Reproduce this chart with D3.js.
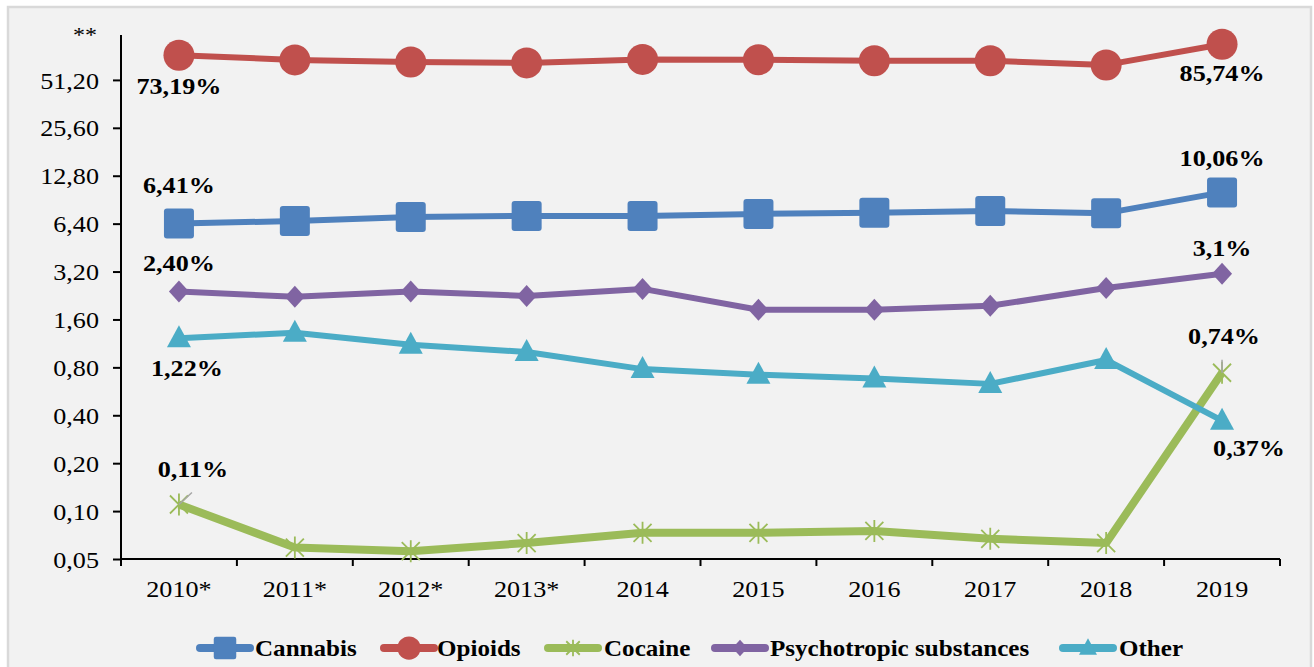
<!DOCTYPE html>
<html>
<head>
<meta charset="utf-8">
<script src="https://cdn.jsdelivr.net/npm/d3@7"></script>
<style>
  html, body { margin: 0; padding: 0; background: #ffffff; }
  svg text { font-family: "Liberation Serif", "Times New Roman", serif; fill: #000; }
</style>
</head>
<body>
<svg id="chart" width="1314" height="667"></svg>
<script>
// ---- data ----
const years = ["2010*", "2011*", "2012*", "2013*", "2014", "2015", "2016", "2017", "2018", "2019"];
const cannabis     = [6.41, 6.65, 7.05, 7.16, 7.16, 7.37, 7.50, 7.69, 7.45, 10.06];
const opioids      = [73.19, 68.4, 66.4, 65.5, 68.9, 68.6, 67.6, 67.6, 63.6, 85.74];
const cocaine      = [0.11, 0.059, 0.056, 0.063, 0.073, 0.073, 0.075, 0.067, 0.063, 0.74];
const psychotropic = [2.40, 2.22, 2.40, 2.25, 2.49, 1.84, 1.84, 1.95, 2.52, 3.1];
const other        = [1.22, 1.32, 1.11, 1.00, 0.78, 0.72, 0.68, 0.63, 0.89, 0.37];
const yTicks       = [0.05, 0.10, 0.20, 0.40, 0.80, 1.60, 3.20, 6.40, 12.80, 25.60, 51.20];
const yTopLabel    = "**";
const seriesNames  = ["Cannabis", "Opioids", "Cocaine", "Psychotropic substances", "Other"];
// value labels: [series, index, text]
const valueLabels = [
  ["Opioids", 0, "73,19%"], ["Opioids", 9, "85,74%"],
  ["Cannabis", 0, "6,41%"], ["Cannabis", 9, "10,06%"],
  ["Psychotropic substances", 0, "2,40%"], ["Psychotropic substances", 9, "3,1%"],
  ["Other", 0, "1,22%"], ["Other", 9, "0,37%"],
  ["Cocaine", 0, "0,11%"], ["Cocaine", 9, "0,74%"]
];

// ---- styles ----
const colors = {
  "Cannabis": "#4f81bd", "Opioids": "#c0504d", "Cocaine": "#9bbb59",
  "Psychotropic substances": "#8064a2", "Other": "#4bacc6"
};
const values = {
  "Cannabis": cannabis, "Opioids": opioids, "Cocaine": cocaine,
  "Psychotropic substances": psychotropic, "Other": other
};
const lineW = { "Cannabis": 6, "Opioids": 6, "Cocaine": 8, "Psychotropic substances": 6, "Other": 6 };
// label offsets (dx, dy baseline relative to point)
const labelOff = {
  "Opioids-0": [0, 39], "Opioids-9": [0, 37],
  "Cannabis-0": [0, -31], "Cannabis-9": [0, -26],
  "Psychotropic substances-0": [0, -20], "Psychotropic substances-9": [0, -18],
  "Other-0": [8, 38], "Other-9": [27, 35],
  "Cocaine-0": [14, -28], "Cocaine-9": [2, -29]
};
const SX = 1.09; // horizontal text stretch

const svg = d3.select("#chart");
// frame
svg.append("rect").attr("x", 8).attr("y", 7).attr("width", 1303).attr("height", 670)
  .attr("fill", "#f2f2f2").attr("stroke", "#d9d9d9").attr("stroke-width", 2.5);

const x = d3.scaleBand().domain(years).range([121, 1280]);
const y = d3.scaleLog().base(2).domain([0.05, 102.4]).range([559, 32]);

function stretchText(sel) {
  sel.each(function () {
    const t = d3.select(this);
    const tx = +t.attr("data-x"), ty = +t.attr("data-y");
    t.attr("transform", `translate(${tx},${ty}) scale(${SX},1)`);
  });
}

// y axis
const yAxis = d3.axisLeft(y).tickValues(yTicks).tickSize(8).tickPadding(14)
  .tickFormat(d => d3.format(".2f")(d).replace(".", ","));
const gy = svg.append("g").attr("transform", "translate(121,0)").call(yAxis);
gy.select(".domain").attr("stroke", "#000").attr("stroke-width", 2).attr("d", `M0,${y(102.4) + 3}V${y(0.05)}`);
gy.selectAll(".tick line").attr("stroke", "#000").attr("stroke-width", 2);
gy.selectAll(".tick text").attr("font-size", 24).attr("font-family", "Liberation Serif").attr("fill", "#000")
  .each(function () {
    const t = d3.select(this);
    t.attr("text-anchor", "end").attr("dy", "0.34em");
    t.attr("transform", `scale(${SX},1)`).attr("x", -22 / SX);
  });
svg.append("text").attr("data-x", 97).attr("data-y", 42).attr("text-anchor", "end")
  .attr("font-size", 22).attr("fill", "#555").text(yTopLabel).call(stretchText);

// x axis
const xAxis = d3.axisBottom(x).tickSize(0).tickPadding(0);
const gx = svg.append("g").attr("transform", `translate(0,${y(0.05)})`).call(xAxis);
gx.select(".domain").attr("stroke", "#000").attr("stroke-width", 2).attr("d", `M121,0H1280`);
gx.selectAll(".tick text").remove();
// boundary ticks
const bounds = years.map(d => x(d)).concat([x.range()[1]]);
gx.selectAll("line.bt").data(bounds).enter().append("line").attr("class", "bt")
  .attr("x1", d => d).attr("x2", d => d).attr("y1", 0).attr("y2", 7)
  .attr("stroke", "#000").attr("stroke-width", 2);
svg.selectAll("text.xl").data(years).enter().append("text").attr("class", "xl")
  .attr("data-x", d => x(d) + x.bandwidth() / 2).attr("data-y", 597)
  .attr("text-anchor", "middle").attr("font-size", 24).text(d => d).call(stretchText);

const cx = d => x(d) + x.bandwidth() / 2;

// marker drawing
function drawMarker(g, name, px, py, scale) {
  const c = colors[name];
  const s = scale || 1;
  if (name === "Cannabis") {
    g.append("rect").attr("x", px - 15 * s).attr("y", py - 15 * s).attr("width", 30 * s).attr("height", 30 * s)
      .attr("rx", 3 * s).attr("fill", c);
  } else if (name === "Opioids") {
    g.append("circle").attr("cx", px).attr("cy", py).attr("r", 15.5 * s).attr("fill", c);
  } else if (name === "Cocaine") {
    const h = 9 * s, v = 11 * s;
    g.append("path").attr("d", `M${px - h},${py - h}L${px + h},${py + h}M${px - h},${py + h}L${px + h},${py - h}M${px},${py - v}L${px},${py + v}`)
      .attr("stroke", c).attr("stroke-width", 1.8).attr("fill", "none");
  } else if (name === "Psychotropic substances") {
    g.append("path").attr("d", `M${px},${py - 11 * s}L${px + 10 * s},${py}L${px},${py + 11 * s}L${px - 10 * s},${py}Z`).attr("fill", c);
  } else if (name === "Other") {
    g.append("path").attr("d", `M${px},${py - 13 * s}L${px + 12 * s},${py + 9 * s}L${px - 12 * s},${py + 9 * s}Z`).attr("fill", c);
  }
}

const drawOrder = ["Cocaine", "Other", "Psychotropic substances", "Cannabis", "Opioids"];
const line = d3.line().x((d, i) => cx(years[i])).y(d => y(d));
drawOrder.forEach(name => {
  const g = svg.append("g");
  g.append("path").datum(values[name]).attr("d", line).attr("fill", "none")
    .attr("stroke", colors[name]).attr("stroke-width", lineW[name]).attr("stroke-linejoin", "round");
  values[name].forEach((v, i) => drawMarker(g, name, cx(years[i]), y(v)));
});

// small leader lines on cocaine end points
svg.append("line").attr("x1", cx(years[0])).attr("y1", y(cocaine[0])).attr("x2", cx(years[0]) + 13).attr("y2", y(cocaine[0]) - 12)
  .attr("stroke", "#a6a6a6").attr("stroke-width", 1.5);
svg.append("line").attr("x1", cx(years[9])).attr("y1", y(cocaine[9])).attr("x2", cx(years[9])).attr("y2", y(cocaine[9]) - 13)
  .attr("stroke", "#a6a6a6").attr("stroke-width", 1.5);

// value labels
valueLabels.forEach(([name, i, txt]) => {
  const off = labelOff[`${name}-${i}`];
  svg.append("text").attr("data-x", cx(years[i]) + off[0]).attr("data-y", y(values[name][i]) + off[1])
    .attr("text-anchor", "middle").attr("font-size", 24).attr("font-weight", "bold").text(txt).call(stretchText);
});

// legend
const legendPos = [
  { name: "Cannabis", mx: 197, tx: 255 },
  { name: "Opioids", mx: 381, tx: 437 },
  { name: "Cocaine", mx: 545, tx: 604 },
  { name: "Psychotropic substances", mx: 712, tx: 770 },
  { name: "Other", mx: 1060, tx: 1119 }
];
const ly = 648;
legendPos.forEach(p => {
  const g = svg.append("g");
  g.append("line").attr("x1", p.mx + 3).attr("x2", p.mx + 53).attr("y1", ly).attr("y2", ly)
    .attr("stroke", colors[p.name]).attr("stroke-width", 8).attr("stroke-linecap", "round");
  drawMarker(g, p.name, p.mx + 28, ly, 0.75);
  g.append("text").attr("data-x", p.tx).attr("data-y", ly + 8).attr("font-size", 23).attr("font-weight", "bold")
    .attr("text-anchor", "start").text(p.name).call(stretchText);
});
</script>
</body>
</html>
